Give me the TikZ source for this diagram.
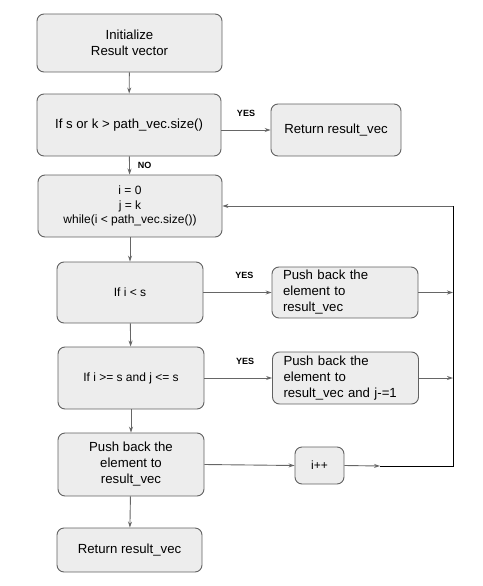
\documentclass[tikz,border=0pt]{standalone}
\usepackage{fontspec}
\setmainfont{Liberation Sans}
\usetikzlibrary{arrows.meta}

\begin{document}
\begin{tikzpicture}[
        x=1pt, y=-1pt,
        >={Stealth[length=6pt, width=4pt]},
        box/.style={draw=black!62, fill=black!7, rounded corners=7pt, line width=0.9pt,
            align=center, inner sep=0pt, font=\fontsize{13.2}{16}\selectfont},
        smallbox/.style={box, font=\fontsize{12}{14.5}\selectfont},
        leftbox/.style={box, align=left, inner xsep=11pt, text width=124pt},
        sz/.style 2 args={minimum width=#1pt, minimum height=#2pt},
        arrow_style/.style={->, line width=0.9pt, draw=black!60},
        lbl/.style={font=\bfseries\fontsize{9}{10}\selectfont, inner sep=0pt}
    ]
    \useasboundingbox (0,0) rectangle (482,586);

    % =========================================================================
    % 1. MAIN COLUMN
    % =========================================================================
    \node[box, sz={185}{58}] (init) at (129.5, 43) {Initialize\\Result vector};
    \node[box, sz={184}{62}] (check) at (129, 125) {If s or k > path\_vec.size()};
    \node[smallbox, sz={184}{62}] (loop) at (130, 206) {i = 0\\j = k\\while(i < path\_vec.size())};
    \node[smallbox, sz={146}{61}] (lesss) at (130, 292.5) {If i < s};
    \node[smallbox, sz={146}{62}] (range) at (131, 378) {If i >= s and j <= s};
    \node[box, sz={146}{63}] (pushc) at (131, 464.5) {Push back the\\element to\\result\_vec};
    \node[box, sz={145}{44}] (retb) at (129.5, 550) {Return result\_vec};

    % =========================================================================
    % 2. RIGHT COLUMN
    % =========================================================================
    \node[box, sz={130}{52}] (reta) at (336, 130) {Return result\_vec};
    \node[leftbox, sz={146}{51}] (pusha) at (345, 292.5) {Push back the\\element to\\result\_vec};
    \node[leftbox, sz={145}{52}] (pushb) at (345.5, 378) {Push back the\\element to\\result\_vec and j-=1};
    \node[smallbox, sz={49}{37}] (inc) at (319.5, 465.5) {i++};

    % Loop-back line
    \coordinate (turn) at (380, 466);
    \coordinate (corner) at (453, 466);
    \coordinate (back) at (corner |- loop.east);

    % =========================================================================
    % 3. CONNECTORS
    % =========================================================================
    \draw[arrow_style] (init) -- (check);
    \draw[arrow_style] (check) -- node[lbl, right=8pt] {NO} (loop);
    \draw[arrow_style] (loop) -- (lesss);
    \draw[arrow_style] (lesss) -- (range);
    \draw[arrow_style] (range) -- (pushc);
    \draw[arrow_style] (pushc) -- (retb);

    \draw[arrow_style] (check.east |- reta.west) -- node[lbl, above=13pt] {YES} (reta.west);
    \draw[arrow_style] (lesss.east) -- node[lbl, pos=0.6, above=13pt] {YES} (pusha.west);
    \draw[arrow_style] (range.east) -- node[lbl, pos=0.6, above=13pt] {YES} (pushb.west);
    \draw[arrow_style] (pushc.east) -- (inc.west);

    \draw[arrow_style] (pusha.east) -- (pusha.east -| corner);
    \draw[arrow_style] (pushb.east) -- (pushb.east -| corner);
    \draw[arrow_style] (inc.east) -- (turn);
    \draw[line width=0.9pt] (turn) -- (corner) -- (back);
    \draw[arrow_style] (back) -- (loop.east);

\end{tikzpicture}
\end{document}
